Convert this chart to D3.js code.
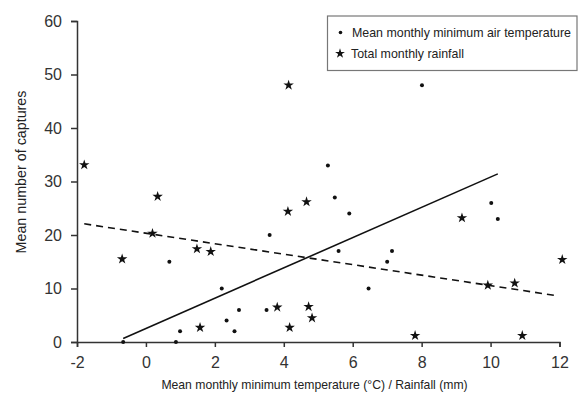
<!DOCTYPE html>
<html>
<head>
<meta charset="utf-8">
<script src="https://cdn.jsdelivr.net/npm/d3@7"></script>
<style>
  body { margin: 0; background: #fff; }
  text { font-family: 'Liberation Sans', Arial, sans-serif; fill: #222; }
  .axis path, .axis line { stroke: #333; stroke-width: 1.5; }
  .axis text { font-size: 16px; fill: #333; }
</style>
</head>
<body>
<div id="chart"></div>
<script>
// temperature (dots)
const tempX = [-0.66, 0.68, 0.87, 0.99, 2.2, 2.34, 2.57, 2.7, 3.5, 3.59,
  5.28, 5.48, 5.59, 5.9, 6.46, 7.0, 7.14, 8.01, 10.02, 10.21]
const tempY = [0, 15, 0, 2, 10, 4, 2, 6, 6, 20,
  33, 27, 17, 24, 10, 15, 17, 48, 26, 23]

// rainfall (stars)
const rainX = [-1.79, -0.69, 0.19, 0.34, 1.48, 1.57, 1.88, 3.81, 4.12, 4.14,
  4.17, 4.66, 4.72, 4.82, 7.81, 9.17, 9.92, 10.7, 10.92, 12.08]
const rainY = [33.1, 15.5, 20.3, 27.2, 17.4, 2.7, 16.9, 6.5, 24.4, 48,
  2.7, 26.2, 6.6, 4.5, 1.2, 23.2, 10.6, 11.0, 1.2, 15.4]

const xTicks = [-2, 0, 2, 4, 6, 8, 10, 12]
const yTicks = [0, 10, 20, 30, 40, 50, 60]

const legendLabels = ['Mean monthly minimum air temperature', 'Total monthly rainfall']

const margin = { top: 21, right: 20.5, bottom: 52, left: 77 }
const width = 580 - margin.left - margin.right
const height = 394 - margin.top - margin.bottom

const svgRoot = d3.select('#chart')
  .append('svg')
  .attr('width', 580)
  .attr('height', 394)

const svg = svgRoot.append('g')
  .attr('transform', 'translate(' + margin.left + ',' + margin.top + ')')

const x = d3.scaleLinear().domain([-2, 12]).range([0, width])
const y = d3.scaleLinear().domain([0, 60]).range([height, 0])

// least squares fit
function fit(xs, ys) {
  const mx = d3.mean(xs)
  const my = d3.mean(ys)
  let sxy = 0
  let sxx = 0
  xs.forEach((v, i) => {
    sxy += (v - mx) * (ys[i] - my)
    sxx += (v - mx) * (v - mx)
  })
  const b = sxy / sxx
  return { a: my - b * mx, b: b }
}

const line = d3.line().x(d => x(d[0])).y(d => y(d[1]))

const tFit = fit(tempX, tempY)
const tx0 = d3.min(tempX)
const tx1 = d3.max(tempX)
svg.append('path')
  .attr('d', line([[tx0, tFit.a + tFit.b * tx0], [tx1, tFit.a + tFit.b * tx1]]))
  .attr('stroke', '#111')
  .attr('stroke-width', 1.6)
  .attr('fill', 'none')

const rFit = fit(rainX, rainY)
const rx0 = d3.min(rainX)
const rx1 = Math.min(d3.max(rainX), 11.93)
svg.append('path')
  .attr('d', line([[rx0, rFit.a + rFit.b * rx0], [rx1, rFit.a + rFit.b * rx1]]))
  .attr('stroke', '#111')
  .attr('stroke-width', 1.6)
  .attr('stroke-dasharray', '7,5')
  .attr('fill', 'none')

// axes
const xAxis = d3.axisBottom(x)
  .tickValues(xTicks)
  .tickSize(5)
  .tickPadding(9.5)
  .tickFormat(d3.format('d'))

svg.append('g')
  .attr('class', 'axis x-axis')
  .attr('transform', 'translate(0,' + height + ')')
  .call(xAxis)

const yAxis = d3.axisLeft(y)
  .tickValues(yTicks)
  .tickSize(6)
  .tickPadding(9)

svg.append('g')
  .attr('class', 'axis y-axis')
  .call(yAxis)

svg.selectAll('.axis text').text(function() {
  return d3.select(this).text().replace('−', '-')
})

// points
const temps = tempX.map((v, i) => [v, tempY[i]])
const rains = rainX.map((v, i) => [v, rainY[i]])

svg.selectAll('.dot')
  .data(temps)
  .enter()
  .append('circle')
  .attr('class', 'dot')
  .attr('cx', d => x(d[0]))
  .attr('cy', d => y(d[1]))
  .attr('r', 2)
  .attr('fill', '#111')

const star = d3.symbol().type(d3.symbolStar).size(34)

svg.selectAll('.star')
  .data(rains)
  .enter()
  .append('path')
  .attr('class', 'star')
  .attr('d', star)
  .attr('transform', d => 'translate(' + x(d[0]) + ',' + y(d[1]) + ')')
  .attr('fill', '#111')

// axis titles
svgRoot.append('text')
  .attr('x', 314.5)
  .attr('y', 388.5)
  .attr('text-anchor', 'middle')
  .attr('font-size', 12.2)
  .text('Mean monthly minimum temperature (°C) / Rainfall (mm)')

svgRoot.append('text')
  .attr('transform', 'translate(26,172) rotate(-90)')
  .attr('text-anchor', 'middle')
  .attr('font-size', 14.3)
  .text('Mean number of captures')

// legend
const legend = svgRoot.append('g')
legend.append('rect')
  .attr('x', 327.5)
  .attr('y', 16)
  .attr('width', 249.5)
  .attr('height', 54.5)
  .attr('fill', '#fff')
  .attr('stroke', '#777')
  .attr('stroke-width', 1.2)

legend.append('circle')
  .attr('cx', 340.5)
  .attr('cy', 32.5)
  .attr('r', 1.8)
  .attr('fill', '#111')

legend.append('path')
  .attr('d', d3.symbol().type(d3.symbolStar).size(30)())
  .attr('transform', 'translate(340,53.5)')
  .attr('fill', '#111')

legend.selectAll('.leg-text')
  .data(legendLabels)
  .enter()
  .append('text')
  .attr('class', 'leg-text')
  .attr('x', (d, i) => i === 0 ? 352 : 351)
  .attr('y', (d, i) => i === 0 ? 36.5 : 58)
  .attr('font-size', 12.4)
  .text(d => d)
</script>
</body>
</html>
